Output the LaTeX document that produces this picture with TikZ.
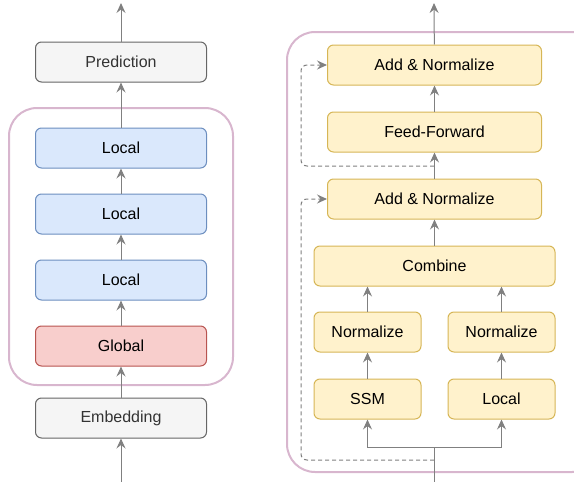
\documentclass[tikz,border=0pt]{standalone}
\usepackage{fontspec}
\setmainfont{Liberation Sans}
\usepackage{xcolor}
\usetikzlibrary{arrows.meta,positioning}

\definecolor{blueFill}{HTML}{DAE8FC}
\definecolor{blueLine}{HTML}{6C8EBF}
\definecolor{redFill}{HTML}{F8CECC}
\definecolor{redLine}{HTML}{B85450}
\definecolor{yellowFill}{HTML}{FFF2CC}
\definecolor{yellowLine}{HTML}{D6B656}
\definecolor{grayFill}{HTML}{F5F5F5}
\definecolor{grayLine}{HTML}{666666}
\definecolor{grayText}{HTML}{333333}
\definecolor{wireGray}{HTML}{808080}
\definecolor{groupLine}{RGB}{216,182,206}

\begin{document}
\begin{tikzpicture}[
    x=1pt, y=-1pt,
    font=\fontsize{16}{19}\selectfont,
    layer/.style={rectangle, rounded corners=6pt, draw, line width=1pt, minimum width=171pt, minimum height=40pt, align=center, inner sep=0pt},
    endlayer/.style={layer, fill=grayFill, draw=grayLine, text=grayText},
    locallayer/.style={layer, fill=blueFill, draw=blueLine},
    globallayer/.style={layer, fill=redFill, draw=redLine},
    blocklayer/.style={layer, fill=yellowFill, draw=yellowLine, minimum width=214pt},
    group/.style={draw=groupLine, line width=2pt, rounded corners=28pt},
    arrow/.style={draw=wireGray, line width=1pt, -{Stealth[length=10pt, width=9pt, inset=3.5pt]}},
    wire/.style={draw=wireGray, line width=1pt},
    residual/.style={arrow, dash pattern=on 4pt off 3pt, rounded corners=6pt}
]
    \useasboundingbox (0,0) rectangle (574,482);

    % groups
    \draw[group] (9,108) rectangle (233,385);
    \draw[group] (287,32) rectangle (600,472);

    % left stack
    \node[endlayer] (emb) at (121,418) {Embedding};
    \node[globallayer] (glob) at (121,346) {Global};
    \node[locallayer, above=25pt of glob] (loc3) {Local};
    \node[locallayer, above=25pt of loc3] (loc2) {Local};
    \node[locallayer, above=25pt of loc2] (loc1) {Local};
    \node[endlayer] (pred) at (121,62) {Prediction};
    \coordinate (inL) at (121,482);
    \coordinate (outL) at (121,3);

    \draw[arrow] (inL) -- (emb);
    \draw[arrow] (emb) -- (glob);
    \draw[arrow] (glob) -- (loc3);
    \draw[arrow] (loc3) -- (loc2);
    \draw[arrow] (loc2) -- (loc1);
    \draw[arrow] (loc1) -- (pred);
    \draw[arrow] (pred) -- (outL);

    % right block
    \node[blocklayer, minimum width=107pt] (ssm) at (367.5,399) {SSM};
    \node[blocklayer, minimum width=107pt] (localB) at (501.5,399) {Local};
    \node[blocklayer, minimum width=107pt, above=26pt of ssm] (normA) {Normalize};
    \node[blocklayer, minimum width=107pt, above=26pt of localB] (normB) {Normalize};
    \node[blocklayer, minimum width=241pt] (combine) at (434.5,266) {Combine};
    \node[blocklayer, above=26pt of combine] (addnorm2) {Add \& Normalize};
    \node[blocklayer, above=26pt of addnorm2] (ff) {Feed-Forward};
    \node[blocklayer, above=26pt of ff] (addnorm1) {Add \& Normalize};
    \coordinate (inR) at (434,482);
    \coordinate (fork) at (434,447);
    \coordinate (res1) at (434,460);
    \coordinate (res2) at (434,166);
    \coordinate (outR) at (434,3);

    \draw[wire] (inR) -- (fork);
    \draw[arrow] (fork) -| (ssm);
    \draw[arrow] (fork) -| (localB);
    \draw[arrow] (ssm) -- (normA);
    \draw[arrow] (localB) -- (normB);
    \draw[arrow] (normA) -- (normA |- combine.south);
    \draw[arrow] (normB) -- (normB |- combine.south);
    \draw[arrow] (combine) -- (addnorm2);
    \draw[arrow] (addnorm2) -- (ff);
    \draw[arrow] (ff) -- (addnorm1);
    \draw[arrow] (addnorm1) -- (outR);

    % residual paths
    \draw[residual] (res1) -- ++(-133,0) |- (addnorm2.west);
    \draw[residual] (res2) -- ++(-133,0) |- (addnorm1.west);
\end{tikzpicture}
\end{document}
